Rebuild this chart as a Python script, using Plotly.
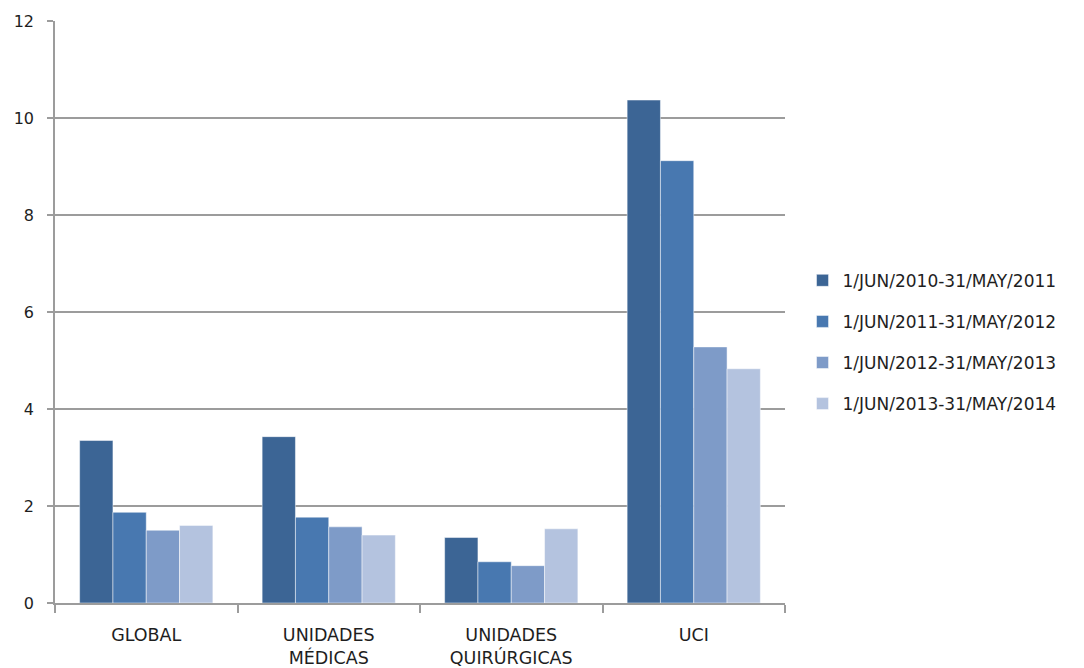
import plotly.graph_objects as go

# Categories and series values
categories = ["GLOBAL", "UNIDADES<br>MÉDICAS", "UNIDADES<br>QUIRÚRGICAS", "UCI"]
series_names = [
    "1/JUN/2010-31/MAY/2011",
    "1/JUN/2011-31/MAY/2012",
    "1/JUN/2012-31/MAY/2013",
    "1/JUN/2013-31/MAY/2014",
]
values_2010_2011 = [3.35, 3.43, 1.35, 10.37]
values_2011_2012 = [1.87, 1.77, 0.85, 9.12]
values_2012_2013 = [1.50, 1.57, 0.77, 5.28]
values_2013_2014 = [1.60, 1.40, 1.53, 4.83]
y_ticks = [0, 2, 4, 6, 8, 10, 12]

series_values = [values_2010_2011, values_2011_2012, values_2012_2013, values_2013_2014]
colors = ["#3C6595", "#4878B0", "#7E9BC8", "#B4C3DF"]

fig = go.Figure()
for i, (name, vals, col) in enumerate(zip(series_names, series_values, colors)):
    fig.add_trace(go.Bar(
        x=categories, y=vals, name=name,
        marker=dict(color=col, line=dict(color="rgba(255,255,255,0.6)", width=0.8)),
        legendgroup=f"g{i}",
    ))

axis_grey = "#9C9C9C"
font_family = "DejaVu Sans, Verdana, sans-serif"
text_color = "#1E1E1E"

fig.update_layout(
    width=1084, height=668,
    margin=dict(l=55, r=299, t=21, b=65, autoexpand=False),
    paper_bgcolor="white", plot_bgcolor="white",
    barmode="group", bargap=0.27, bargroupgap=0,
    font=dict(family=font_family, size=17, color=text_color),
    showlegend=True,
    legend=dict(
        x=1.024, y=0.448, xanchor="left", yanchor="middle",
        font=dict(size=17, color=text_color),
        tracegroupgap=16, itemwidth=30,
    ),
    xaxis=dict(
        automargin=False,
        showline=True, linecolor=axis_grey, linewidth=1.5,
        ticks="outside", tickson="boundaries", ticklen=8,
        tickcolor=axis_grey, tickwidth=1.5,
        tickfont=dict(size=17.5, color=text_color),
        ticklabelstandoff=15,
        showgrid=False,
    ),
    yaxis=dict(
        automargin=False,
        range=[0, 12], tickvals=y_ticks,
        showline=True, linecolor=axis_grey, linewidth=1.5,
        ticks="outside", ticklen=6, tickcolor=axis_grey, tickwidth=1.5,
        showgrid=True, gridcolor=axis_grey, gridwidth=1.5,
        zeroline=False,
        tickfont=dict(size=16, color=text_color),
        ticklabelstandoff=10,
    ),
)

fig.write_html("out.html")
